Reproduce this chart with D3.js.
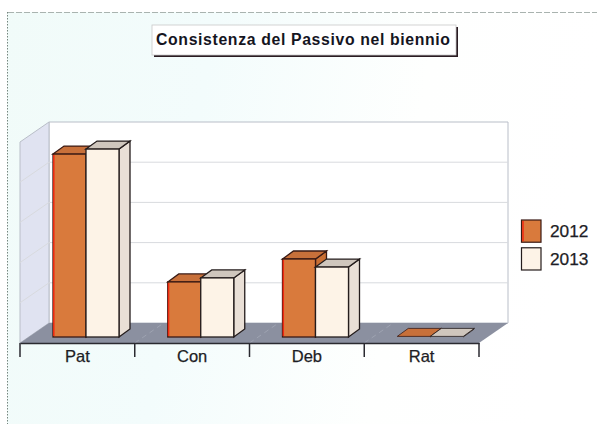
<!DOCTYPE html>
<html><head><meta charset="utf-8">
<script src="https://cdnjs.cloudflare.com/ajax/libs/d3/7.8.5/d3.min.js"></script>
<style>html,body{margin:0;padding:0;background:#fff}svg{display:block}text{font-family:"Liberation Sans",Arial,sans-serif}</style>
</head><body><svg id="c" width="597" height="424"></svg>
<script>
const categories = ["Pat","Con","Deb","Rat"];
const seriesNames = ["2012","2013"];
const values2012 = [91,27.4,38.8,0.3];
const values2013 = [93.5,29.4,34.8,0.3];
const gridTicks = [0,20,40,60,80,100];
const titleText = "Consistenza del Passivo nel biennio";

const svg = d3.select("#c");
const defs = svg.append("defs");
const bg = defs.append("linearGradient").attr("id","bg").attr("x1",0).attr("y1",0).attr("x2",1).attr("y2",0.12);
bg.append("stop").attr("offset",0).attr("stop-color","#f1fbf9");
bg.append("stop").attr("offset",.35).attr("stop-color","#f3fcfc");
bg.append("stop").attr("offset",.72).attr("stop-color","#fefffe");
bg.append("stop").attr("offset",1).attr("stop-color","#ffffff");

svg.append("rect").attr("x",7).attr("y",12).attr("width",590).attr("height",412).attr("fill","url(#bg)");
svg.append("line").attr("x1",7.5).attr("x2",7.5).attr("y1",12).attr("y2",424).attr("stroke","#76867f").attr("stroke-dasharray","1.5 1.5");
svg.append("line").attr("x1",8).attr("x2",597).attr("y1",12.5).attr("y2",12.5).attr("stroke","#a9b3af").attr("stroke-dasharray","6 2");

// title
svg.append("rect").attr("x",154).attr("y",27).attr("width",304).attr("height",30).attr("fill","#2a1c22");
svg.append("rect").attr("x",152).attr("y",25).attr("width",304).attr("height",30).attr("fill","#fff").attr("stroke","#c8c8c8").attr("stroke-width",.8);
svg.append("text").attr("x",156).attr("y",45).attr("font-size",15.8).attr("font-weight","bold").attr("fill","#15151f")
  .attr("textLength",294).attr("lengthAdjust","spacing").text(titleText);

// 3D frame
const L=20,R=479,FB=343,dx=29,dy=-20,baseY=337;
const x0 = d3.scaleBand().domain(categories).range([L,R]);
const x1 = d3.scaleBand().domain(seriesNames).range([33,99]);
const y = d3.scaleLinear().domain([0,100]).range([baseY,baseY-201]);
const gy = d3.scaleLinear().domain([0,100]).range([FB,FB-201]);
const poly = p => p.map(a=>a.join(",")).join(" ");

svg.append("polygon").attr("points",poly([[L+dx,gy(0)+dy],[R+dx,gy(0)+dy],[R+dx,gy(100)+dy],[L+dx,gy(100)+dy]]))
  .attr("fill","#fff").attr("stroke","#b9bec8").attr("stroke-width",1);
svg.append("polygon").attr("points",poly([[L,gy(0)],[L+dx,gy(0)+dy],[L+dx,gy(100)+dy],[L,gy(100)]]))
  .attr("fill","#e0e3f1").attr("stroke","#b9bec8").attr("stroke-width",1);
svg.selectAll(".g").data(gridTicks.slice(1,-1)).join("path").attr("class","g")
  .attr("d",d=>`M${L},${gy(d)}L${L+dx},${gy(d)+dy}L${R+dx},${gy(d)+dy}`)
  .attr("fill","none").attr("stroke","#d8dade").attr("stroke-width",1);
svg.append("polygon").attr("points",poly([[L,FB],[R,FB],[R+dx,FB+dy],[L+dx,FB+dy]])).attr("fill","#8b90a0");
svg.selectAll(".fl").data(categories.slice(1)).join("line").attr("class","fl")
  .attr("x1",d=>x0(d)).attr("y1",FB).attr("x2",d=>x0(d)+dx).attr("y2",FB+dy)
  .attr("stroke","#a3a8b6").attr("stroke-dasharray","5 4").attr("stroke-width",.8);

// bars
const bdx=11,bdy=-8;
const styles = {
  "2012":{front:"#d97a3c",top:"#c8703a",side:"#c96f34",edge:"#3a1a14"},
  "2013":{front:"#fdf3e7",top:"#cfc6bd",side:"#e9dfd6",edge:"#241c1c"}
};
const rows = [];
categories.forEach((c,i)=>{
  rows.push({c,s:"2012",v:values2012[i]});
  rows.push({c,s:"2013",v:values2013[i]});
});
const g = svg.append("g");
rows.forEach(d=>{
  const st=styles[d.s], xa=x0(d.c)+x1(d.s), xb=xa+x1.bandwidth(), yt=y(d.v), yb=y(0);
  const flat = d.v<1;
  const sw = flat?0.8:1.3;
  g.append("polygon").attr("points",poly([[xb,yt],[xb+bdx,yt+bdy],[xb+bdx,yb+bdy],[xb,yb]]))
    .attr("fill",st.side).attr("stroke",st.edge).attr("stroke-width",sw);
  g.append("polygon").attr("points",poly([[xa,yt],[xa+bdx,yt+bdy],[xb+bdx,yt+bdy],[xb,yt]]))
    .attr("fill",st.top).attr("stroke",st.edge).attr("stroke-width",sw);
  if(!flat){
    g.append("rect").attr("x",xa).attr("y",yt).attr("width",xb-xa).attr("height",yb-yt)
      .attr("fill",st.front).attr("stroke",st.edge).attr("stroke-width",sw);
    if(d.s==="2012") g.append("line").attr("x1",xa+.8).attr("x2",xa+.8).attr("y1",yt+1).attr("y2",yb-1)
      .attr("stroke","#f02a10").attr("stroke-width",1.5);
  }
});

// axis
const axis = d3.axisBottom(x0).tickSize(0).tickPadding(7);
const ag = svg.append("g").attr("transform",`translate(0,${FB})`).call(axis);
ag.select(".domain").attr("stroke","#2a2a30").attr("stroke-width",1.5);
ag.selectAll("text").attr("font-size",16.5).attr("fill","#1d1d25").attr("font-family","Liberation Sans").attr("stroke","#1d1d25").attr("stroke-width",.25);
ag.selectAll(".sep").data(x0.domain().map(d=>x0(d)).concat([R])).join("line").attr("class","sep")
  .attr("x1",d=>d).attr("x2",d=>d).attr("y1",0).attr("y2",14).attr("stroke","#2a2a30").attr("stroke-width",1.5);

// legend
const ly = d3.scaleBand().domain(seriesNames).range([220,270]).paddingInner(.2);
seriesNames.forEach(s=>{
  const st=styles[s];
  svg.append("rect").attr("x",521.5).attr("y",ly(s)).attr("width",19.5).attr("height",ly.bandwidth())
    .attr("fill",st.front).attr("stroke",st.edge).attr("stroke-width",1.2);
  if(s==="2012") svg.append("line").attr("x1",523).attr("x2",523).attr("y1",ly(s)+1).attr("y2",ly(s)+ly.bandwidth()-1).attr("stroke","#f02a10").attr("stroke-width",1.5);
  svg.append("text").attr("x",550).attr("y",ly(s)+ly.bandwidth()/2+6).attr("font-size",17.3).attr("fill","#1d1d25").attr("stroke","#1d1d25").attr("stroke-width",.25).text(s);
});
</script></body></html>
